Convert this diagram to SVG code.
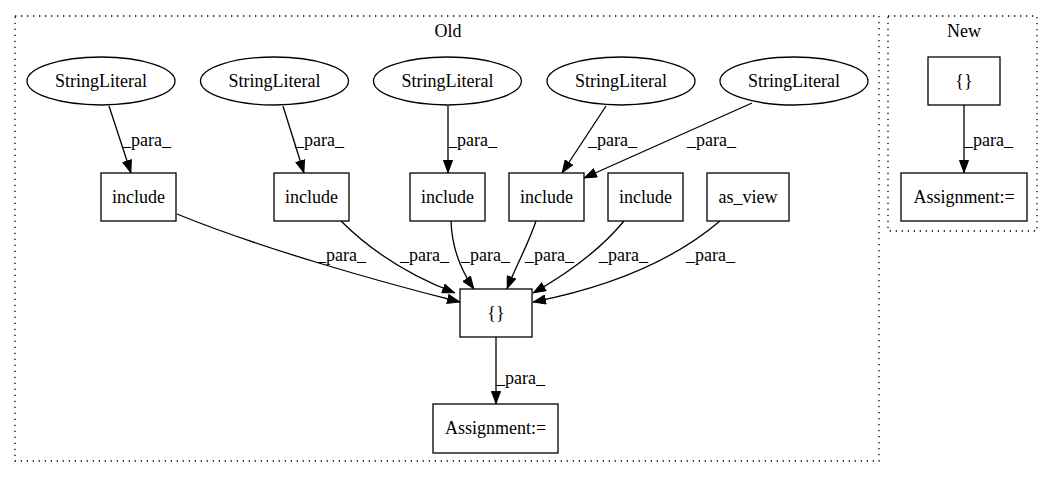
<svg xmlns="http://www.w3.org/2000/svg" width="1053" height="480" viewBox="0 0 1053 480">
<style>
text{font-family:"Liberation Serif","Times New Roman",serif;font-size:18px;fill:#000}
.n{text-anchor:middle}
.c{fill:none;stroke:#000;stroke-width:1.3;stroke-dasharray:1.3,4.7}
.s{fill:#fff;stroke:#000;stroke-width:1.3}
.e{fill:none;stroke:#000;stroke-width:1.3;marker-end:url(#ah)}
</style>
<defs>
<marker id="ah" viewBox="0 0 13 10" refX="13" refY="5" markerWidth="13" markerHeight="10" markerUnits="userSpaceOnUse" orient="auto">
<path d="M0.5,0.5L12.5,5L0.5,9.5z" fill="#000" stroke="#000" stroke-width="1"/>
</marker>
</defs>
<rect width="1053" height="480" fill="#fff"/>
<g id="cluster_old">
<rect class="c" x="15" y="16" width="864" height="445"/>
<text class="n" x="448" y="37">Old</text>
</g>
<g id="cluster_new">
<rect class="c" x="888" y="16" width="149" height="215"/>
<text class="n" x="964" y="37">New</text>
</g>
<g id="connectors">
<path class="e" d="M109,106L131,173"/>
<path class="e" d="M283,106L304,173"/>
<path class="e" d="M448,106L448,173"/>
<path class="e" d="M606,106L562,173"/>
<path class="e" d="M752,103L584,178"/>
<path class="e" d="M177,214C260,248 380,282 460,302"/>
<path class="e" d="M341,221C365,245 400,272 455,293"/>
<path class="e" d="M451,221C452,250 462,272 474,289"/>
<path class="e" d="M536,221C528,245 515,268 507,289"/>
<path class="e" d="M624,221C600,250 565,275 533,293"/>
<path class="e" d="M720,221C680,255 620,285 533,302"/>
<path class="e" d="M496,337L496,404"/>
<path class="e" d="M964,105L964,173"/>
<text x="122" y="146">_para_</text>
<text x="295" y="146">_para_</text>
<text x="448" y="146">_para_</text>
<text x="588" y="146">_para_</text>
<text x="687" y="146">_para_</text>
<text x="317" y="261">_para_</text>
<text x="400" y="261">_para_</text>
<text x="461" y="261">_para_</text>
<text x="525" y="261">_para_</text>
<text x="599" y="261">_para_</text>
<text x="686" y="261">_para_</text>
<text x="496" y="384">_para_</text>
<text x="964" y="146">_para_</text>
</g>
<g id="sl1"><ellipse class="s" cx="101" cy="81" rx="74" ry="24"/><text class="n" x="101" y="87">StringLiteral</text></g>
<g id="sl2"><ellipse class="s" cx="274.5" cy="81" rx="74" ry="24"/><text class="n" x="274.5" y="87">StringLiteral</text></g>
<g id="sl3"><ellipse class="s" cx="447.5" cy="81" rx="74" ry="24"/><text class="n" x="447.5" y="87">StringLiteral</text></g>
<g id="sl4"><ellipse class="s" cx="621" cy="81" rx="74" ry="24"/><text class="n" x="621" y="87">StringLiteral</text></g>
<g id="sl5"><ellipse class="s" cx="794" cy="81" rx="74" ry="24"/><text class="n" x="794" y="87">StringLiteral</text></g>
<g id="inc1"><rect class="s" x="101" y="173" width="75" height="48"/><text class="n" x="138.5" y="203">include</text></g>
<g id="inc2"><rect class="s" x="274" y="173" width="75" height="48"/><text class="n" x="311.5" y="203">include</text></g>
<g id="inc3"><rect class="s" x="410" y="173" width="75" height="48"/><text class="n" x="447.5" y="203">include</text></g>
<g id="inc4"><rect class="s" x="509" y="173" width="75" height="48"/><text class="n" x="546.5" y="203">include</text></g>
<g id="inc5"><rect class="s" x="608" y="173" width="75" height="48"/><text class="n" x="645.5" y="203">include</text></g>
<g id="asview"><rect class="s" x="707" y="173" width="82" height="48"/><text class="n" x="748" y="203">as_view</text></g>
<g id="braces_old"><rect class="s" x="460" y="289" width="72" height="48"/><text class="n" x="496" y="319">{}</text></g>
<g id="assign_old"><rect class="s" x="433" y="404" width="125" height="49"/><text class="n" x="495.5" y="434">Assignment:=</text></g>
<g id="braces_new"><rect class="s" x="928" y="57" width="72" height="48"/><text class="n" x="964" y="87">{}</text></g>
<g id="assign_new"><rect class="s" x="901" y="173" width="126" height="48"/><text class="n" x="964" y="203">Assignment:=</text></g>
</svg>
